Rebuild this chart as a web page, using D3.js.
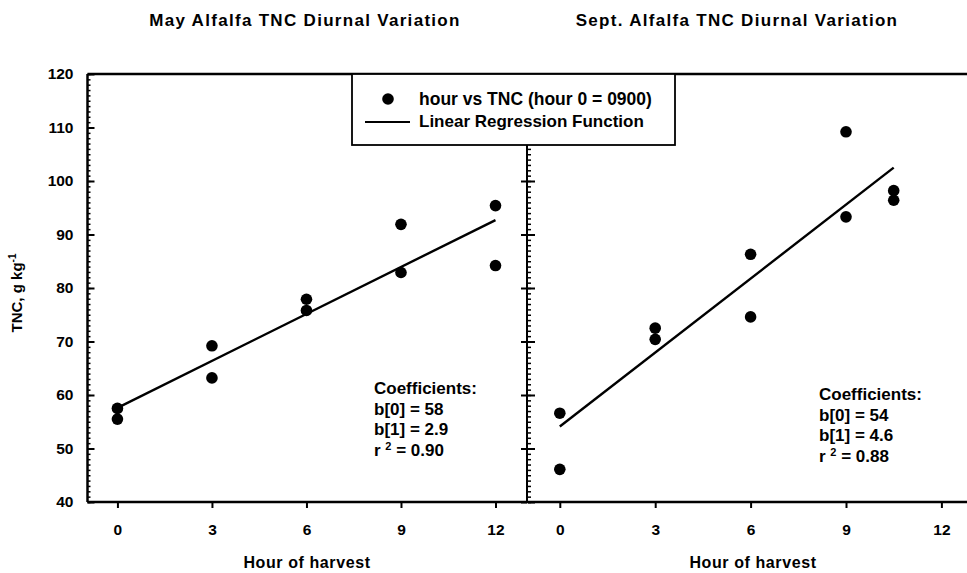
<!DOCTYPE html>
<html>
<head>
<meta charset="utf-8">
<script src="https://cdn.jsdelivr.net/npm/d3@7"></script>
<style>
  body { margin: 0; background: #fff; }
  svg text { font-family: "Liberation Sans", Arial, sans-serif; font-weight: bold; fill: #000; }
</style>
</head>
<body>
<div id="chart"></div>
<script>
// values
var mayHour = [0, 0, 3, 3, 6, 6, 9, 9, 12, 12];
var mayTNC = [57.5, 55.5, 69.2, 63.2, 77.9, 75.8, 91.9, 82.9, 95.4, 84.2];
var mayFitHour = [0, 12];
var mayFitTNC = [57.6, 92.7];
var mayCoef = ["Coefficients:", "b[0] = 58", "b[1] = 2.9", "0.90"];

var septHour = [0, 0, 3, 3, 6, 6, 9, 9, 10.5, 10.5];
var septTNC = [56.6, 46.1, 72.5, 70.4, 86.3, 74.6, 109.2, 93.3, 98.2, 96.4];
var septFitHour = [0, 10.5];
var septFitTNC = [54.1, 102.5];
var septCoef = ["Coefficients:", "b[0] = 54", "b[1] = 4.6", "0.88"];

var hourTicks = [0, 3, 6, 9, 12];
var tncTicks = [40, 50, 60, 70, 80, 90, 100, 110, 120];
var titles = ["May Alfalfa TNC Diurnal Variation", "Sept. Alfalfa TNC Diurnal Variation"];

var width = 967, height = 573;
var top_ = 74, bottom = 502, divider = 527;

var svg = d3.select("#chart").append("svg")
    .attr("width", width)
    .attr("height", height);

var y = d3.scaleLinear().domain([40, 120]).range([bottom, top_]);
var xMay = d3.scaleLinear().domain([-0.95, 13]).range([87.5, divider]);
var xSept = d3.scaleLinear().domain([-1, 13]).range([divider + 1, divider + 1 + 14 * 31.8]);

function panel(x, hours, tnc, fitH, fitT, coef, title, labelX, coefPos, leftLabels) {
    var g = svg.append("g");

    // y axis on the left edge of the panel
    var x0 = x.range()[0];
    var yAxis = g.append("g").attr("transform", "translate(" + x0 + ",0)")
        .call(d3.axisLeft(y).tickValues(tncTicks).tickSize(-7).tickPadding(14)
            .tickFormat(leftLabels ? d3.format("d") : ""));
    yAxis.select(".domain").remove();
    yAxis.selectAll("line").attr("stroke-width", 2);
    yAxis.selectAll("text").style("font-size", "15.5px");

    var yMinor = g.append("g").attr("transform", "translate(" + x0 + ",0)")
        .call(d3.axisLeft(y).tickValues(d3.range(40, 121, 1)).tickSize(-3).tickFormat(""));
    yMinor.select(".domain").remove();
    yMinor.selectAll("line").attr("stroke-width", 1.5);

    // x axis
    var xAxis = g.append("g").attr("transform", "translate(0," + bottom + ")")
        .call(d3.axisBottom(x).tickValues(hourTicks).tickSize(6).tickPadding(16));
    xAxis.select(".domain").remove();
    xAxis.selectAll("line").attr("stroke-width", 2);
    xAxis.selectAll("text").style("font-size", "15.5px");

    g.append("text")
        .attr("x", labelX)
        .attr("y", 568)
        .attr("text-anchor", "middle")
        .style("font-size", "16px")
        .style("letter-spacing", "0.6px")
        .text("Hour of harvest");

    g.append("text")
        .attr("x", title.x)
        .attr("y", 26)
        .attr("text-anchor", "middle")
        .style("font-size", "17px")
        .style("letter-spacing", "1.3px")
        .text(title.text);

    // regression line
    var line = d3.line().x(function(d) { return x(d[0]); }).y(function(d) { return y(d[1]); });
    g.append("path")
        .datum(d3.zip(fitH, fitT))
        .attr("d", line)
        .attr("fill", "none")
        .attr("stroke", "#000")
        .attr("stroke-width", 2.4);

    g.selectAll("circle")
        .data(d3.zip(hours, tnc)).enter().append("circle")
        .attr("cx", function(d) { return x(d[0]); })
        .attr("cy", function(d) { return y(d[1]); })
        .attr("r", 5.8)
        .attr("fill", "#000");

    var ct = g.append("g").attr("transform", "translate(" + coefPos[0] + "," + coefPos[1] + ")");
    coef.slice(0, 3).forEach(function(s, i) {
        ct.append("text").attr("x", 0).attr("y", i * 20.5).style("font-size", "17px").text(s);
    });
    var r2 = ct.append("text").attr("x", 0).attr("y", 3 * 20.5).style("font-size", "17px");
    r2.append("tspan").text("r ");
    r2.append("tspan").attr("dy", -6).style("font-size", "11px").text("2");
    r2.append("tspan").attr("dy", 6).text(" = " + coef[3]);
}

panel(xMay, mayHour, mayTNC, mayFitHour, mayFitTNC, mayCoef,
    {x: 305, text: titles[0]}, 307, [374, 394], true);
panel(xSept, septHour, septTNC, septFitHour, septFitTNC, septCoef,
    {x: 737, text: titles[1]}, 753, [819, 400], false);

// left panel right-edge major ticks (pointing left)
var rAxis = svg.append("g").attr("transform", "translate(" + divider + ",0)")
    .call(d3.axisRight(y).tickValues(tncTicks).tickSize(-6).tickFormat(""));
rAxis.select(".domain").remove();
rAxis.selectAll("line").attr("stroke-width", 2);

// frame lines
var x0 = xMay.range()[0];
svg.append("line").attr("x1", x0).attr("x2", width).attr("y1", top_).attr("y2", top_)
    .attr("stroke", "#000").attr("stroke-width", 2.5);
svg.append("line").attr("x1", x0).attr("x2", width).attr("y1", bottom).attr("y2", bottom)
    .attr("stroke", "#000").attr("stroke-width", 2.5);
svg.append("line").attr("x1", x0).attr("x2", x0).attr("y1", top_).attr("y2", bottom)
    .attr("stroke", "#000").attr("stroke-width", 2.5);
svg.append("line").attr("x1", divider).attr("x2", divider).attr("y1", top_).attr("y2", bottom)
    .attr("stroke", "#000").attr("stroke-width", 2);

// y axis title
var yt = svg.append("text")
    .attr("transform", "translate(22,293) rotate(-90)")
    .attr("text-anchor", "middle")
    .style("font-size", "15px");
yt.append("tspan").text("TNC, g kg");
yt.append("tspan").attr("dy", -6).style("font-size", "10px").text("-1");

// legend
var lg = svg.append("g");
lg.append("rect").attr("x", 352).attr("y", top_).attr("width", 323).attr("height", 71)
    .attr("fill", "#fff").attr("stroke", "#000").attr("stroke-width", 1.8);
lg.append("circle").attr("cx", 388).attr("cy", 99).attr("r", 5.8).attr("fill", "#000");
lg.append("text").attr("x", 419).attr("y", 105).style("font-size", "17.5px")
    .text("hour vs TNC (hour 0 = 0900)");
lg.append("line").attr("x1", 365).attr("x2", 410).attr("y1", 122).attr("y2", 122)
    .attr("stroke", "#000").attr("stroke-width", 2.2);
lg.append("text").attr("x", 419).attr("y", 127).style("font-size", "17px")
    .text("Linear Regression Function");
</script>
</body>
</html>
